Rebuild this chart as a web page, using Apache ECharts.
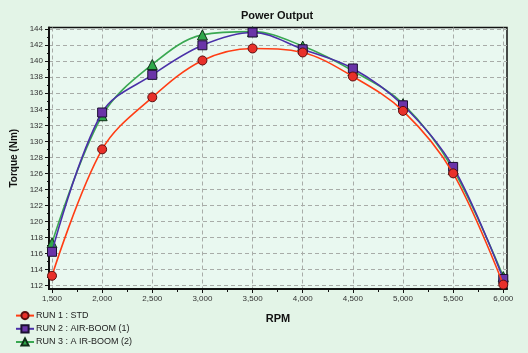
<!DOCTYPE html>
<html>
<head>
<meta charset="utf-8">
<script src="https://cdn.jsdelivr.net/npm/echarts@6/dist/echarts.min.js"></script>
<style>
  html, body { margin: 0; padding: 0; background: #e3f4e7; }
  #chart { width: 528px; height: 353px; }
</style>
</head>
<body>
<div id="chart"></div>
<script>
// rpm points
const rpm = [1500, 2000, 2500, 3000, 3500, 4000, 4500, 5000, 5500, 6000];

// torque (Nm) per run
const run1 = [113.2, 129.0, 135.5, 140.1, 141.6, 141.1, 138.1, 133.8, 126.0, 112.1];
const run2 = [116.2, 133.6, 138.3, 142.0, 143.6, 141.5, 139.1, 134.5, 126.8, 112.8];
const run3 = [117.3, 133.2, 139.6, 143.3, 143.7, 141.9, 138.8, 134.7, 126.5, 113.1];

const seriesNames = ['RUN 1 : STD', 'RUN 2 : AIR-BOOM (1)', 'RUN 3 : A IR-BOOM (2)'];

// tick labels
const xTicks = [1500, 2000, 2500, 3000, 3500, 4000, 4500, 5000, 5500, 6000];
const xMinorTicks = [1750, 2250, 2750, 3250, 3750, 4250, 4750, 5250, 5750];
const yTicks = [112, 114, 116, 118, 120, 122, 124, 126, 128, 130, 132, 134, 136, 138, 140, 142, 144];
const yMinorTicks = [113, 115, 117, 119, 121, 123, 125, 127, 129, 131, 133, 135, 137, 139, 141, 143];

const pair = (ys) => rpm.map((x, i) => [x, ys[i]]);

const chart = echarts.init(document.getElementById('chart'), null, { renderer: 'canvas' });

const labelFont = { color: '#333', fontSize: 8, fontFamily: 'Liberation Sans, Arial, sans-serif' };

const option = {
    backgroundColor: '#e3f4e7',
    animation: false,
    title: {
        text: 'Power Output',
        left: 272,
        textAlign: 'center',
        top: 5,
        textStyle: { fontSize: 11, fontWeight: 'bold', color: '#111', fontFamily: 'Liberation Sans, Arial, sans-serif' },
    },
    legend: {
        orient: 'vertical',
        left: 15,
        top: 311,
        height: 60,
        padding: 0,
        itemGap: 4,
        itemWidth: 18,
        itemHeight: 9,
        textStyle: { fontSize: 9, color: '#222', fontFamily: 'Liberation Sans, Arial, sans-serif', padding: [0, 0, 0, -3] },
        data: seriesNames,
    },
    grid: {
        left: 49,
        right: 21,
        top: 27.5,
        bottom: 64,
        show: true,
        backgroundColor: '#e9f8f0',
        borderColor: '#111',
        borderWidth: 1.5,
    },
    xAxis: [
        {
            type: 'value',
            min: 1470,
            max: 6037,
            name: 'RPM',
            nameLocation: 'middle',
            nameGap: 24,
            nameTextStyle: { fontSize: 11, fontWeight: 'bold', color: '#111', fontFamily: 'Liberation Sans, Arial, sans-serif' },
            axisLine: { lineStyle: { color: '#111', width: 2 } },
            axisTick: { customValues: xTicks, length: 4, lineStyle: { color: '#111' } },
            axisLabel: Object.assign({
                customValues: xTicks,
                margin: 6,
                formatter: (v) => v.toLocaleString('en-US'),
            }, labelFont),
            splitLine: { show: true, lineStyle: { color: '#a8aca8', type: [4, 3], width: 1 } },
        },
        {
            type: 'value',
            min: 1470,
            max: 6037,
            position: 'bottom',
            axisLine: { show: false },
            axisTick: { customValues: xMinorTicks, length: 3, lineStyle: { color: '#111' } },
            axisLabel: { show: false },
            splitLine: { show: false },
        },
    ],
    yAxis: [
        {
            type: 'value',
            min: 111.55,
            max: 144.22,
            name: 'Torque (Nm)',
            nameLocation: 'middle',
            nameGap: 26,
            nameTextStyle: { fontSize: 10, fontWeight: 'bold', color: '#111', fontFamily: 'Liberation Sans, Arial, sans-serif' },
            axisLine: { show: true, lineStyle: { color: '#111', width: 2 } },
            axisTick: { show: true, customValues: yTicks, length: 4, lineStyle: { color: '#111' } },
            axisLabel: Object.assign({ customValues: yTicks, margin: 6 }, labelFont),
            splitLine: { show: true, lineStyle: { color: '#a8aca8', type: [4, 3], width: 1 } },
        },
        {
            type: 'value',
            min: 111.55,
            max: 144.22,
            position: 'left',
            axisLine: { show: false },
            axisTick: { show: true, customValues: yMinorTicks, length: 2, lineStyle: { color: '#111' } },
            axisLabel: { show: false },
            splitLine: { show: false },
        },
    ],
    series: [
        {
            name: seriesNames[0],
            type: 'line',
            smooth: 0.35,
            data: pair(run1),
            symbol: 'circle',
            symbolSize: 9,
            z: 4,
            lineStyle: { color: '#ff3d14', width: 1.6 },
            itemStyle: { color: '#e8302a', borderColor: '#5a1010', borderWidth: 1 },
        },
        {
            name: seriesNames[1],
            type: 'line',
            smooth: 0.35,
            data: pair(run2),
            symbol: 'rect',
            symbolSize: 9,
            z: 3,
            lineStyle: { color: '#4a30a8', width: 1.6 },
            itemStyle: { color: '#6a34a8', borderColor: '#1a1030', borderWidth: 1 },
        },
        {
            name: seriesNames[2],
            type: 'line',
            smooth: 0.35,
            data: pair(run3),
            symbol: 'triangle',
            symbolSize: 10,
            z: 2,
            lineStyle: { color: '#3aa852', width: 1.6 },
            itemStyle: { color: '#2ea84a', borderColor: '#103018', borderWidth: 1 },
        },
    ],
};

chart.setOption(option);
</script>
</body>
</html>
